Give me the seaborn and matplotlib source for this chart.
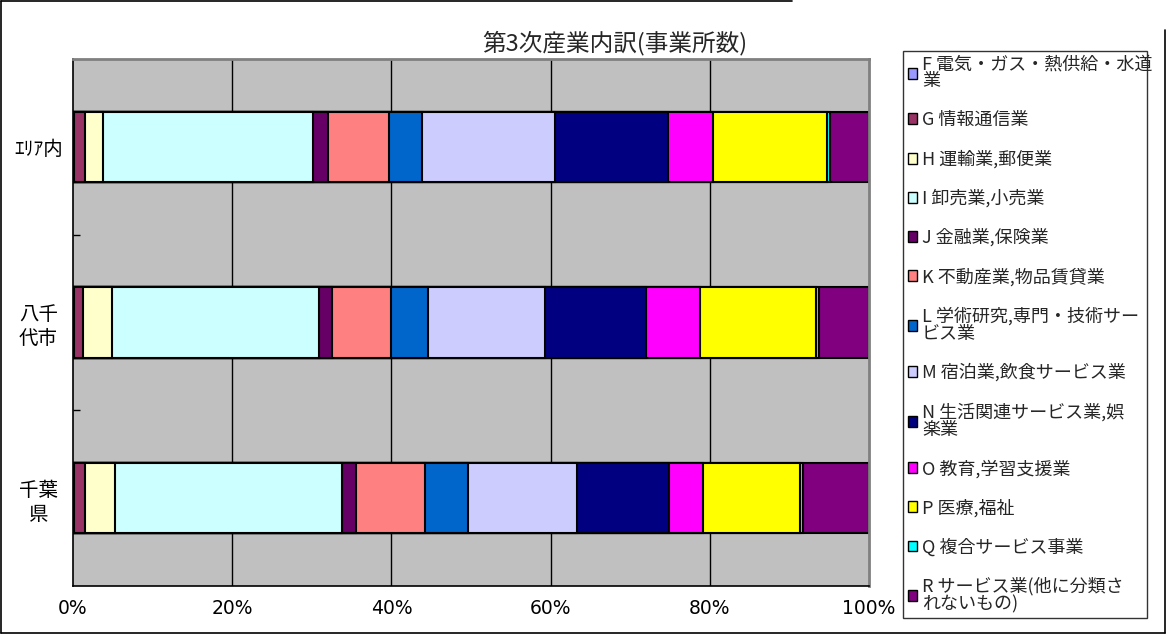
import matplotlib
matplotlib.use("Agg")
import matplotlib.pyplot as plt
import seaborn as sns
import pandas as pd
import numpy as np
from matplotlib.patches import Patch
from matplotlib.lines import Line2D

sns.set_theme(style="white")
plt.rcParams['font.family'] = ['DejaVu Sans', 'Noto Sans CJK JP']

# ---- data ----
regions = ["ｴﾘｱ内", "八千\n代市", "千葉\n県"]
industries = ["F 電気・ガス・熱供給・水道業", "G 情報通信業", "H 運輸業,郵便業", "I 卸売業,小売業",
              "J 金融業,保険業", "K 不動産業,物品賃貸業", "L 学術研究,専門・技術サービス業",
              "M 宿泊業,飲食サービス業", "N 生活関連サービス業,娯楽業", "O 教育,学習支援業",
              "P 医療,福祉", "Q 複合サービス事業", "R サービス業(他に分類されないもの)"]
legend_labels = ["F 電気・ガス・熱供給・水道\n業", "G 情報通信業", "H 運輸業,郵便業", "I 卸売業,小売業",
                 "J 金融業,保険業", "K 不動産業,物品賃貸業", "L 学術研究,専門・技術サー\nビス業",
                 "M 宿泊業,飲食サービス業", "N 生活関連サービス業,娯\n楽業", "O 教育,学習支援業",
                 "P 医療,福祉", "Q 複合サービス事業", "R サービス業(他に分類さ\nれないもの)"]
area_in = [0.1, 1.4, 2.3, 26.3, 1.9, 7.7, 4.2, 16.7, 14.1, 5.7, 14.3, 0.4, 4.9]
yachiyo = [0.1, 1.2, 3.6, 26.0, 1.6, 7.4, 4.7, 14.7, 12.7, 6.8, 14.5, 0.4, 6.3]
chiba = [0.1, 1.4, 3.8, 28.5, 1.7, 8.7, 5.4, 13.7, 11.6, 4.3, 12.1, 0.4, 8.3]
colors = ["#9999FF", "#993366", "#FFFFCC", "#CCFFFF", "#660066", "#FF8080", "#0066CC",
          "#CCCCFF", "#000080", "#FF00FF", "#FFFF00", "#00FFFF", "#800080"]
xticks = [0, 20, 40, 60, 80, 100]
xticklabels = ["0%", "20%", "40%", "60%", "80%", "100%"]

vals = np.array([area_in, yachiyo, chiba])
shares = vals / vals.sum(axis=1, keepdims=True) * 100
cum = np.cumsum(shares, axis=1)

fig = plt.figure(figsize=(11.66, 6.34), dpi=100)
fig.patch.set_facecolor("white")
ax = fig.add_axes([73/1166, 1-586/634, (869-73)/1166, (586-59)/634])
ax.set_facecolor("#C0C0C0")

# vertical gridlines
for xv in xticks[1:-1]:
    ax.axvline(xv, color="black", lw=1.0, zorder=0.5)

for j in range(len(industries) - 1, -1, -1):
    df = pd.DataFrame({"region": regions, "value": cum[:, j]})
    sns.barplot(data=df, x="value", y="region", orient="h", color=colors[j],
                edgecolor="black", linewidth=1.5, width=0.4, ax=ax, zorder=2,
                saturation=1, errorbar=None)

ax.set_xlim(0, 100)
ax.set_ylim(2.5, -0.5)
ax.set_xlabel("")
ax.set_ylabel("")
ax.set_xticks(xticks)
ax.set_xticklabels(xticklabels, fontsize=13.5, color="black")
ax.tick_params(axis="x", length=0, pad=9)
ax.set_yticks(range(len(regions)))
ax.set_yticklabels(regions, fontsize=14, color="black", ha="center", linespacing=1.2,
                   family=['Noto Sans CJK JP', 'DejaVu Sans'])
ax.tick_params(axis="y", which="major", length=0, pad=25)
ax.set_yticks([0.5, 1.5], minor=True)
ax.tick_params(axis="y", which="minor", direction="in", length=5, width=1, color="black", left=True)

for s in ["left", "bottom"]:
    ax.spines[s].set_color("black")
    ax.spines[s].set_linewidth(1.2)
for s in ["top", "right"]:
    ax.spines[s].set_color("#808080")
    ax.spines[s].set_linewidth(2)

fig.text(615/1166, 1-43/634, "第3次産業内訳(事業所数)", ha="center", va="center", fontsize=17,
         family=['Noto Sans CJK JP', 'DejaVu Sans'])

handles = [Patch(facecolor=c, edgecolor="black", linewidth=1.0) for c in colors]
leg = fig.legend(handles, legend_labels, loc="upper left",
                 bbox_to_anchor=(903/1166, 1-57/634, 244/1166, 0.01), mode="expand",
                 frameon=True, prop={"family": ['Noto Sans CJK JP', 'DejaVu Sans'], "size": 13},
                 handlelength=0.55, handleheight=0.55, handletextpad=0.25,
                 labelspacing=1.15, borderpad=0.25, borderaxespad=0, fancybox=False)
leg.get_frame().set_edgecolor("black")
leg.get_frame().set_linewidth(1.0)
for t in leg.get_texts():
    t.set_linespacing(0.95)

# outer chart border
fig.add_artist(Line2D([0.5/1166, 792/1166], [1-1/634, 1-1/634], color="black", lw=1.2, transform=fig.transFigure))
fig.add_artist(Line2D([0.5/1166, 0.5/1166], [1-1/634, 1/634], color="black", lw=1.2, transform=fig.transFigure))
fig.add_artist(Line2D([0.5/1166, 1165/1166], [1/634, 1/634], color="black", lw=1.2, transform=fig.transFigure))
fig.add_artist(Line2D([1165/1166, 1165/1166], [1/634, 1-30/634], color="black", lw=1.2, transform=fig.transFigure))

fig.savefig("out.png", dpi=100)
